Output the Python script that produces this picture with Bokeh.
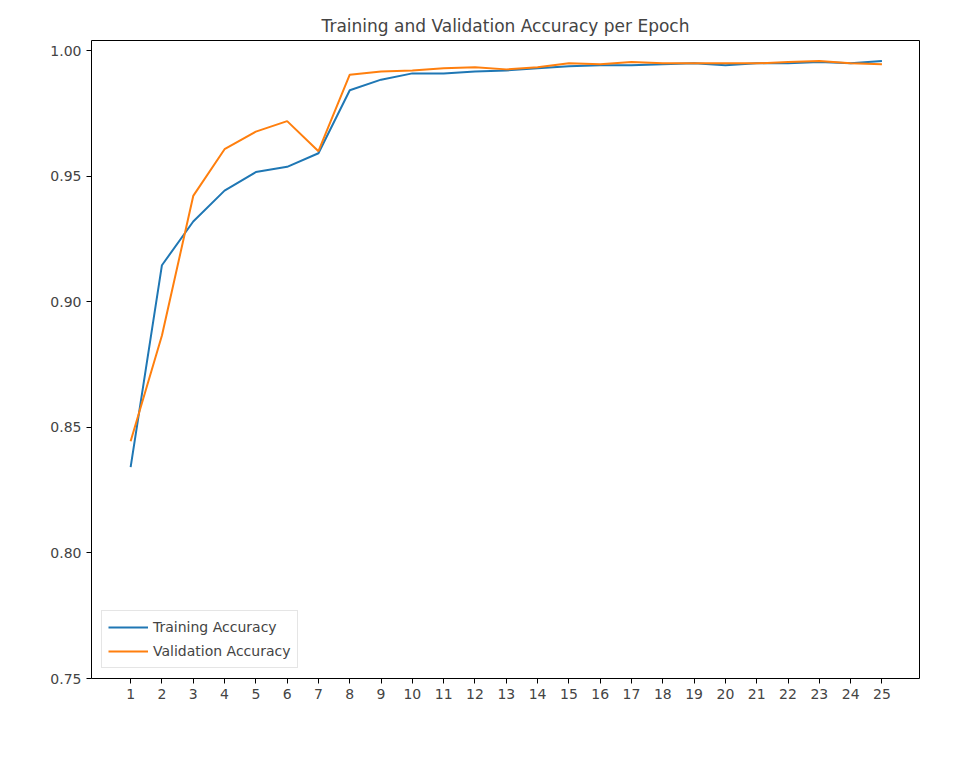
from bokeh.plotting import figure
from bokeh.models import Range1d, Legend, LegendItem, NumeralTickFormatter
from bokeh.embed import file_html
from bokeh.resources import INLINE

epochs = list(range(1, 26))
train_acc = [0.8342, 0.9146, 0.9320, 0.9443, 0.9517, 0.9538, 0.9592, 0.9843, 0.9885, 0.9910,
             0.9910, 0.9918, 0.9922, 0.9930, 0.9938, 0.9942, 0.9942, 0.9946, 0.9950, 0.9942,
             0.9950, 0.9950, 0.9955, 0.9950, 0.9959]
val_acc = [0.8445, 0.8866, 0.9422, 0.9608, 0.9678, 0.9720, 0.9600, 0.9905, 0.9918, 0.9922,
           0.9930, 0.9934, 0.9926, 0.9934, 0.9950, 0.9946, 0.9955, 0.9950, 0.9950, 0.9950,
           0.9950, 0.9955, 0.9959, 0.9950, 0.9946]
y_ticks = [0.75, 0.80, 0.85, 0.90, 0.95, 1.00]

p = figure(width=945, height=745, output_backend="svg", toolbar_location=None,
           title="Training and Validation Accuracy per Epoch",
           x_range=Range1d(-0.25, 26.2), y_range=Range1d(0.75, 1.0041),
           min_border_left=91, min_border_right=26, min_border_bottom=67, min_border_top=40)
p.title.align = "center"
p.title.text_font = "DejaVu Sans"
p.title.text_font_size = "17px"
p.title.text_font_style = "normal"
p.xgrid.visible = False
p.ygrid.visible = False
p.outline_line_color = "black"

p.xaxis.ticker = epochs
p.yaxis.ticker = y_ticks
p.yaxis.formatter = NumeralTickFormatter(format="0.00")
for ax in (p.xaxis[0], p.yaxis[0]):
    ax.major_label_text_font = "DejaVu Sans"
    ax.major_label_text_font_size = "14px"
    ax.minor_tick_line_color = None
    ax.major_tick_in = 0
    ax.major_tick_out = 5
    ax.axis_line_color = None

r1 = p.line(epochs, train_acc, line_color="#1f77b4", line_width=2)
r2 = p.line(epochs, val_acc, line_color="#ff7f0e", line_width=2)

legend = Legend(items=[LegendItem(label="Training Accuracy", renderers=[r1]),
                       LegendItem(label="Validation Accuracy", renderers=[r2])],
                location="bottom_left", label_text_font="DejaVu Sans",
                label_text_font_size="14px", border_line_color="#cccccc",
                border_line_width=1, glyph_width=40, spacing=4, padding=6, margin=10)
p.add_layout(legend)

open("out.html", "w").write(file_html(p, INLINE))
